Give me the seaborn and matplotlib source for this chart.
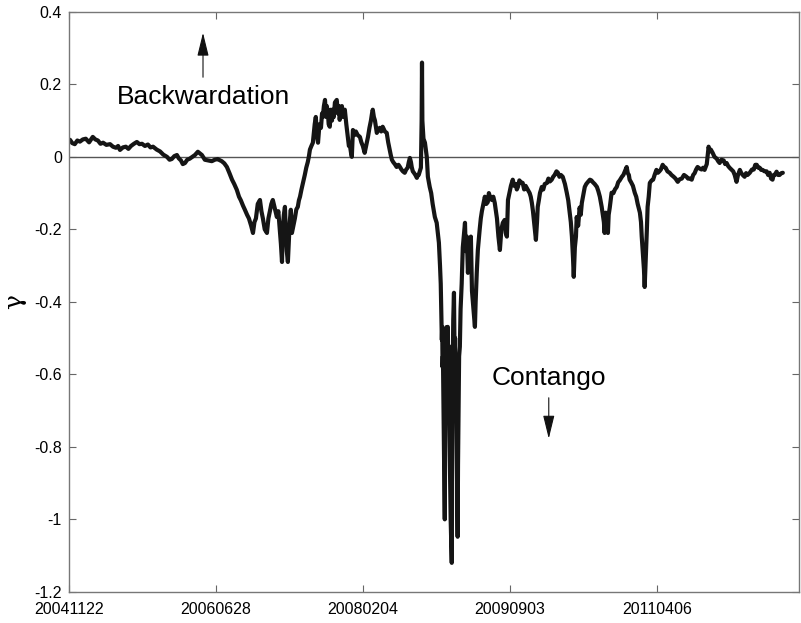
import matplotlib
matplotlib.use("Agg")
import matplotlib.pyplot as plt
import pandas as pd
import seaborn as sns

# trading-day index and gamma, one list pair per stretch
days_2004 = [4, 10, 17, 24, 31, 39, 47, 56, 66, 73, 80, 87, 94, 103, 113, 121,
             129, 135, 140, 148, 156, 163, 170, 178, 186, 193, 200, 208, 216,
             223, 230, 240, 249, 258, 268, 275, 281, 288, 295, 300, 306, 311,
             317, 323, 330, 337, 344, 352, 357, 363, 371, 380, 390, 398, 406,
             411, 417, 424, 431]
gamma_2004 = [0.047, 0.038, 0.035, 0.045, 0.042, 0.048, 0.050, 0.040, 0.055,
              0.048, 0.045, 0.036, 0.039, 0.033, 0.035, 0.028, 0.025, 0.030,
              0.019, 0.026, 0.028, 0.022, 0.030, 0.036, 0.041, 0.035, 0.036,
              0.030, 0.034, 0.026, 0.028, 0.020, 0.015, 0.006, 0.000, -0.008,
              -0.006, 0.002, 0.005, -0.004, -0.010, -0.020, -0.017, -0.008,
              -0.005, 0.000, 0.005, 0.014, 0.010, 0.005, -0.008, -0.010,
              -0.012, -0.008, -0.006, -0.009, -0.012, -0.018, -0.028]

days_2006 = [438, 445, 451, 458, 464, 469, 475, 480, 486, 491, 497, 502, 506,
             510, 515, 521, 525, 529, 534, 540, 544, 548, 552, 556, 561, 567,
             571, 575, 578, 581, 583, 586, 589, 591, 594, 597, 600, 602, 605,
             608, 612, 616, 620, 624, 627, 630, 634, 638, 643, 647, 651, 654,
             657, 661, 665]
gamma_2006 = [-0.045, -0.063, -0.075, -0.091, -0.11, -0.12, -0.135, -0.146,
              -0.16, -0.17, -0.19, -0.21, -0.18, -0.17, -0.13, -0.119, -0.15,
              -0.17, -0.20, -0.21, -0.17, -0.15, -0.13, -0.119, -0.14, -0.166,
              -0.15, -0.2, -0.24, -0.29, -0.20, -0.16, -0.138, -0.2, -0.26,
              -0.29, -0.22, -0.18, -0.146, -0.21, -0.19, -0.17, -0.145, -0.138,
              -0.12, -0.11, -0.09, -0.072, -0.05, -0.03, -0.015, 0.000, 0.02,
              0.030, 0.039]

days_2007 = [670, 673, 676, 679, 683, 687, 690, 692, 695, 698, 701, 703, 706,
             708, 711, 714, 717, 719, 722, 725, 730, 733, 736, 738, 741, 744,
             747, 752, 756, 760, 763, 766, 769, 771, 774, 778, 782, 787, 793,
             797, 801, 806, 810, 815, 819, 823, 826, 828, 831, 834, 837, 839,
             843, 847, 851, 855, 861, 866, 870, 874, 877, 880, 884, 888, 893,
             898, 902, 906, 910, 915, 919, 923, 926, 929, 932, 934, 937, 940,
             944, 948, 951, 953, 956, 959, 961, 962, 963, 966]
gamma_2007 = [0.09, 0.11, 0.06, 0.039, 0.09, 0.08, 0.12, 0.11, 0.14, 0.157,
              0.11, 0.14, 0.12, 0.09, 0.083, 0.13, 0.10, 0.13, 0.11, 0.15,
              0.157, 0.12, 0.14, 0.102, 0.13, 0.14, 0.11, 0.13, 0.09, 0.055,
              0.03, 0.03, 0.01, 0.000, 0.074, 0.06, 0.07, 0.06, 0.055, 0.04,
              0.03, 0.011, 0.03, 0.055, 0.08, 0.10, 0.12, 0.13, 0.11, 0.10,
              0.08, 0.066, 0.075, 0.08, 0.07, 0.083, 0.07, 0.066, 0.04, 0.02,
              0.005, -0.008, -0.015, -0.02, -0.028, -0.022, -0.028, -0.035,
              -0.04, -0.044, -0.035, -0.03, -0.015, -0.003, -0.015, -0.028,
              -0.04, -0.044, -0.05, -0.058, -0.05, -0.05, -0.04, -0.03, 0.10,
              0.26, 0.10, 0.05]

days_2008 = [970, 975, 978, 983, 987, 991, 997, 1002, 1008, 1011, 1013, 1015,
             1016, 1017, 1018, 1019, 1020, 1021, 1023, 1024, 1025, 1026, 1027,
             1028, 1029, 1030, 1031, 1032, 1033, 1034, 1035, 1036, 1038, 1040,
             1043, 1044, 1045, 1046, 1047, 1049, 1050, 1051, 1052, 1053, 1054,
             1055, 1056, 1057, 1059, 1060, 1062, 1063, 1065, 1067, 1070, 1073]
gamma_2008 = [0.039, 0.00, -0.055, -0.083, -0.10, -0.13, -0.166, -0.182,
              -0.237, -0.30, -0.35, -0.45, -0.505, -0.47, -0.58, -0.55, -0.65,
              -0.75, -0.92, -1.0, -0.75, -0.55, -0.60, -0.47, -0.62, -0.50,
              -0.64, -0.469, -0.60, -0.52, -0.62, -0.70, -0.85, -1.0, -1.12,
              -0.85, -0.6, -0.55, -0.45, -0.375, -0.48, -0.55, -0.50, -0.62,
              -0.55, -0.65, -0.75, -0.85, -1.048, -0.85, -0.65, -0.55, -0.524,
              -0.42, -0.35, -0.25]

days_2009 = [1079, 1081, 1084, 1087, 1090, 1092, 1095, 1098, 1103, 1106, 1108,
             1111, 1114, 1119, 1122, 1125, 1129, 1133, 1137, 1141, 1144, 1147,
             1152, 1156, 1160, 1166, 1170, 1174, 1178, 1182, 1187, 1190, 1193,
             1196, 1200, 1204, 1209, 1213, 1217, 1220, 1223, 1227, 1231, 1236,
             1240, 1244, 1250, 1255, 1258, 1261, 1264, 1266, 1269, 1272, 1275,
             1277, 1280, 1283, 1288, 1292, 1296, 1302, 1306, 1310, 1315, 1319,
             1323, 1328, 1332, 1336, 1340, 1345, 1351, 1356, 1360, 1364, 1367,
             1370, 1373, 1375, 1378, 1381, 1383, 1387, 1391, 1394, 1397, 1402,
             1405, 1409, 1413, 1419, 1423, 1427, 1432, 1438, 1442, 1446, 1451,
             1454, 1457, 1459, 1462, 1465, 1468, 1470, 1473, 1478, 1483, 1487,
             1492, 1496, 1500, 1506, 1510, 1514, 1519, 1522, 1525, 1527, 1531,
             1536, 1541, 1545, 1549, 1555, 1558, 1560, 1563, 1566, 1568, 1571,
             1574, 1576, 1579, 1582, 1587, 1591, 1595]
gamma_2009 = [-0.182, -0.26, -0.22, -0.32, -0.26, -0.28, -0.22, -0.37, -0.43,
              -0.469, -0.40, -0.32, -0.257, -0.20, -0.17, -0.15, -0.13, -0.11,
              -0.13, -0.125, -0.10, -0.11, -0.119, -0.11, -0.127, -0.17, -0.22,
              -0.257, -0.20, -0.182, -0.174, -0.21, -0.22, -0.119, -0.10,
              -0.08, -0.063, -0.08, -0.075, -0.09, -0.083, -0.065, -0.07,
              -0.072, -0.09, -0.08, -0.091, -0.10, -0.11, -0.127, -0.15, -0.17,
              -0.20, -0.229, -0.18, -0.138, -0.12, -0.10, -0.083, -0.09,
              -0.075, -0.072, -0.06, -0.068, -0.063, -0.055, -0.05, -0.04,
              -0.044, -0.055, -0.05, -0.055, -0.075, -0.099, -0.12, -0.154,
              -0.18, -0.22, -0.28, -0.331, -0.25, -0.22, -0.166, -0.19, -0.14,
              -0.16, -0.127, -0.10, -0.083, -0.075, -0.07, -0.063, -0.065,
              -0.07, -0.075, -0.083, -0.095, -0.11, -0.138, -0.16, -0.18,
              -0.21, -0.154, -0.19, -0.21, -0.16, -0.14, -0.099, -0.10, -0.09,
              -0.083, -0.07, -0.065, -0.055, -0.05, -0.04, -0.028, -0.045,
              -0.05, -0.063, -0.07, -0.08, -0.099, -0.11, -0.13, -0.154, -0.18,
              -0.22, -0.265, -0.31, -0.359, -0.28, -0.20, -0.138, -0.11,
              -0.072, -0.065, -0.063, -0.05]

days_2011 = [1600, 1604, 1608, 1612, 1617, 1621, 1625, 1630, 1636, 1641, 1647,
             1652, 1658, 1663, 1669, 1675, 1682, 1686, 1691, 1696, 1700, 1704,
             1708, 1712, 1717, 1723, 1727, 1731, 1737, 1740, 1742, 1745, 1748,
             1753, 1758, 1764, 1768, 1772, 1777, 1783, 1787, 1791, 1795, 1799,
             1805, 1809, 1813, 1818, 1822, 1827, 1831, 1835, 1840, 1844, 1848,
             1854, 1860, 1865, 1869, 1873, 1877, 1881, 1885, 1889, 1894, 1900,
             1904, 1908, 1912, 1916, 1919, 1922, 1927, 1931, 1935, 1940, 1944]
gamma_2011 = [-0.036, -0.044, -0.04, -0.035, -0.022, -0.028, -0.03, -0.04,
              -0.044, -0.05, -0.055, -0.06, -0.069, -0.062, -0.06, -0.05,
              -0.055, -0.06, -0.06, -0.063, -0.05, -0.045, -0.035, -0.028,
              -0.032, -0.035, -0.03, -0.036, -0.02, 0.01, 0.028, 0.015, 0.02,
              0.011, 0.000, -0.005, -0.012, -0.017, -0.008, -0.01, -0.02,
              -0.017, -0.025, -0.03, -0.036, -0.04, -0.05, -0.069, -0.05,
              -0.036, -0.045, -0.05, -0.055, -0.045, -0.05, -0.044, -0.035,
              -0.035, -0.022, -0.022, -0.03, -0.03, -0.036, -0.036, -0.04,
              -0.04, -0.05, -0.044, -0.06, -0.063, -0.05, -0.05, -0.041, -0.05,
              -0.05, -0.045, -0.044]

tick_positions = [1, 401, 801, 1201, 1601]
tick_labels = ["20041122", "20060628", "20080204", "20090903", "20110406"]
y_ticks = [0.4, 0.2, 0, -0.2, -0.4, -0.6, -0.8, -1, -1.2]

day_parts = [days_2004, days_2006, days_2007, days_2008, days_2009, days_2011]
gamma_parts = [gamma_2004, gamma_2006, gamma_2007, gamma_2008, gamma_2009, gamma_2011]
for d, g in zip(day_parts, gamma_parts):
    assert len(d) == len(g), (len(d), len(g))

df = pd.DataFrame({
    "day": [v for part in day_parts for v in part],
    "gamma": [v for part in gamma_parts for v in part],
})

sns.set_style("ticks")
plt.rcParams["font.family"] = ["Liberation Sans", "DejaVu Sans"]
plt.rcParams["text.color"] = "black"

fig = plt.figure(figsize=(8.01, 6.23), dpi=100)
ax = fig.add_axes([0.086, 0.05, 0.9115, 0.931])

ax.axhline(0, color="#555555", linewidth=1.0, zorder=1)
sns.lineplot(data=df, x="day", y="gamma", ax=ax, color="#151515",
             linewidth=3.0, estimator=None, sort=False, zorder=2)

ax.set_xlim(1, 1988)
ax.set_ylim(-1.2, 0.4)
ax.set_xticks(tick_positions)
ax.set_xticklabels(tick_labels)
ax.set_yticks(y_ticks)
ax.set_yticklabels([f"{t:g}" for t in y_ticks])
ax.tick_params(direction="in", length=5, width=0.8, color="#666666",
               labelsize=11.5, labelcolor="black", top=True, right=True)
ax.tick_params(axis="x", pad=7)
ax.tick_params(axis="y", pad=5)
for side in ax.spines.values():
    side.set_color("#777777")
    side.set_linewidth(1.0)
ax.set_xlabel("")
# MATLAB-style ylabel: the gamma sits rotated on its side
ax.set_ylabel("γ", fontsize=18, rotation=90, color="black",
              family=["DejaVu Serif"])
ax.yaxis.set_label_coords(-0.058, 0.5)

# annotations
head = "-|>,head_length=0.9,head_width=0.22"
ax.text(366, 0.166, "Backwardation", fontsize=19, ha="center", va="center")
ax.annotate("", xy=(366, 0.35), xytext=(366, 0.212),
            arrowprops=dict(arrowstyle=head, color="#111111", lw=0.8,
                            mutation_scale=16))
ax.text(1307, -0.61, "Contango", fontsize=19, ha="center", va="center")
ax.annotate("", xy=(1307, -0.785), xytext=(1307, -0.657),
            arrowprops=dict(arrowstyle=head, color="#111111", lw=0.8,
                            mutation_scale=16))

fig.savefig("out.png", dpi=100)
